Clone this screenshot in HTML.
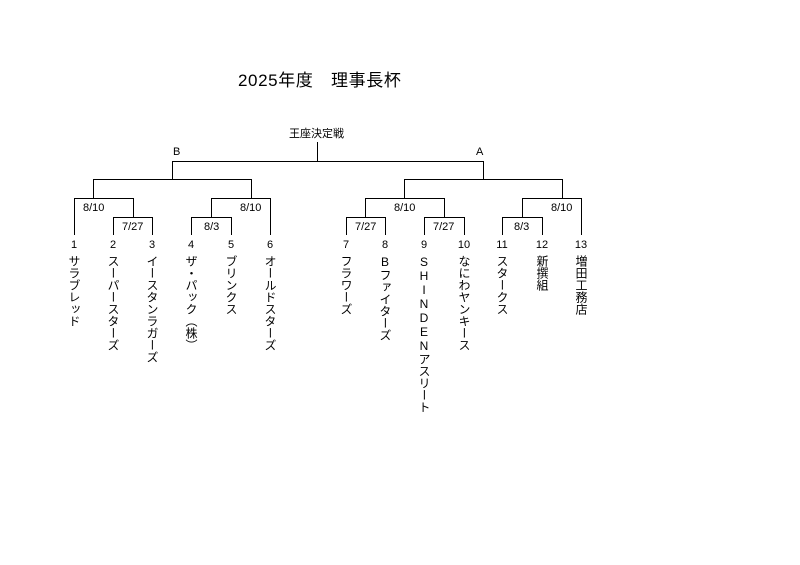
<!DOCTYPE html>
<html><head><meta charset="utf-8"><style>
body{margin:0;background:#fff;width:800px;height:565px;overflow:hidden;position:relative;font-family:"Liberation Sans","Noto Sans CJK JP",sans-serif;color:#000}
.t{position:absolute;white-space:nowrap}
.v{position:absolute;writing-mode:vertical-rl;font-size:12px;line-height:14px;width:14px;text-orientation:upright}
.n{position:absolute;font-size:11px;width:30px;text-align:center}
.d{position:absolute;font-size:11px}
</style></head><body>
<div class="t" style="left:238px;top:66px;font-size:17px;letter-spacing:0.6px">2025年度　理事長杯</div>
<div class="t" style="left:289px;top:125px;font-size:11px">王座決定戦</div>
<div class="t" style="left:173px;top:146px;font-size:11px">B</div>
<div class="t" style="left:476px;top:146px;font-size:11px">A</div>
<svg width="800" height="565" style="position:absolute;left:0;top:0" fill="none" stroke="#000" stroke-width="1">
<path d="M317.5 142V161.5M172.5 161.5H483.5M172.5 161V179.5M483.5 161V179.5
M93.5 179.5H251.5M93.5 179V198.5M251.5 179V198.5
M404.5 179.5H562.5M404.5 179V198.5M562.5 179V198.5
M74.5 198.5H133.5V217.5M74.5 198V235M113.5 217.5H152.5M113.5 217V235M152.5 217V235
M211.5 198.5H270.5V235M211.5 198V217.5M191.5 217.5H231.5M191.5 217V235M231.5 217V235
M365.5 198.5H444.5M365.5 198V217.5M444.5 198V217.5M346.5 217.5H385.5M346.5 217V235M385.5 217V235M424.5 217.5H464.5M424.5 217V235M464.5 217V235
M522.5 198.5H581.5V235M522.5 198V217.5M502.5 217.5H542.5M502.5 217V235M542.5 217V235"/>
</svg>
<div class="d" style="left:83px;top:202px">8/10</div>
<div class="d" style="left:122px;top:221px">7/27</div>
<div class="d" style="left:240px;top:202px">8/10</div>
<div class="d" style="left:204px;top:221px">8/3</div>
<div class="d" style="left:394px;top:202px">8/10</div>
<div class="d" style="left:355px;top:221px">7/27</div>
<div class="d" style="left:433px;top:221px">7/27</div>
<div class="d" style="left:551px;top:202px">8/10</div>
<div class="d" style="left:514px;top:221px">8/3</div>

<div class="n" style="left:59px;top:239px">1</div>
<div class="n" style="left:98px;top:239px">2</div>
<div class="n" style="left:137px;top:239px">3</div>
<div class="n" style="left:176px;top:239px">4</div>
<div class="n" style="left:216px;top:239px">5</div>
<div class="n" style="left:255px;top:239px">6</div>
<div class="n" style="left:331px;top:239px">7</div>
<div class="n" style="left:370px;top:239px">8</div>
<div class="n" style="left:409px;top:239px">9</div>
<div class="n" style="left:449px;top:239px">10</div>
<div class="n" style="left:487px;top:239px">11</div>
<div class="n" style="left:527px;top:239px">12</div>
<div class="n" style="left:566px;top:239px">13</div>

<div class="v" style="left:67px;top:255px">サラブレッド</div>
<div class="v" style="left:106px;top:255px">スーパースターズ</div>
<div class="v" style="left:145px;top:255px">イースタンラガーズ</div>
<div class="v" style="left:184px;top:255px">ザ・パック（株）</div>
<div class="v" style="left:224px;top:255px">ブリンクス</div>
<div class="v" style="left:263px;top:255px">オールドスターズ</div>
<div class="v" style="left:339px;top:255px">フラワーズ</div>
<div class="v" style="left:378px;top:255px">Bファイターズ</div>
<div class="v" style="left:417px;top:255px">SHINDENアスリート</div>
<div class="v" style="left:457px;top:255px">なにわヤンキース</div>
<div class="v" style="left:495px;top:255px">スタークス</div>
<div class="v" style="left:535px;top:255px">新撰組</div>
<div class="v" style="left:574px;top:255px">増田工務店</div>
</body></html>
